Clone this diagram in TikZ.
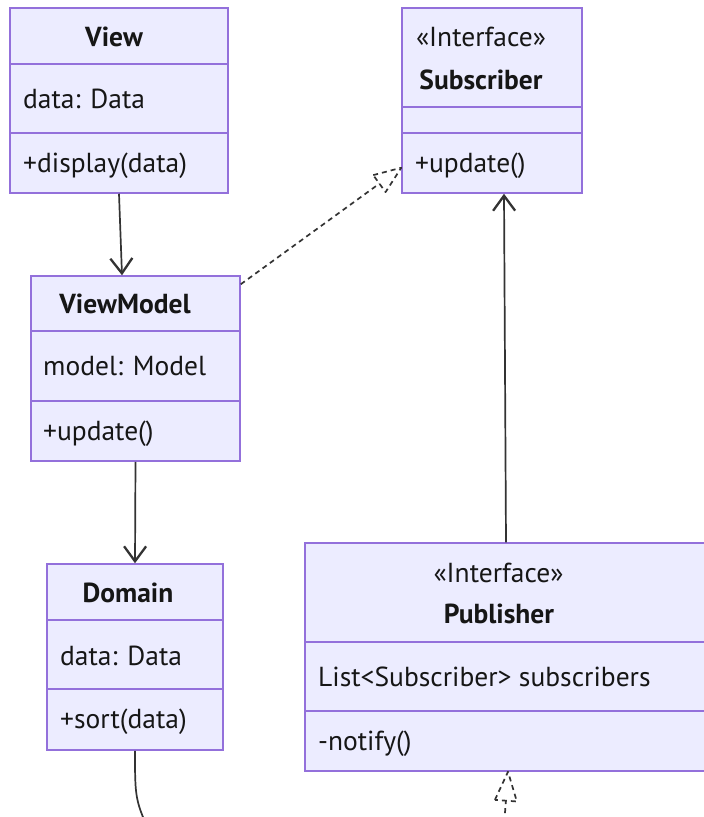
\documentclass[tikz,border=0pt]{standalone}
\usepackage{fontspec}
\setmainfont{PT Sans}
\usetikzlibrary{arrows.meta,calc}
\definecolor{classfill}{HTML}{ECECFF}
\definecolor{classline}{HTML}{9370DB}
\definecolor{edgeink}{HTML}{333333}
\definecolor{ink}{HTML}{161616}
\tikzset{
  classbox/.style={draw=classline, fill=classfill, line width=1.5pt, rectangle, inner sep=0pt},
  divider/.style={draw=classline, line width=1.5pt},
  member/.style={anchor=base west, inner sep=0pt, text=ink, font=\fontsize{27.5}{32}\selectfont},
  classtitle/.style={anchor=base, inner sep=0pt, text=ink, font=\fontsize{27.5}{32}\selectfont\bfseries},
  stereo/.style={anchor=base, inner sep=0pt, text=ink, font=\fontsize{27.5}{32}\selectfont},
  edgeline/.style={draw=edgeink, line width=1.7pt},
  assoc/.style={edgeline, -{Straight Barb[length=15pt, width=22pt, line width=2.3pt]}},
  realize/.style={edgeline, dash pattern=on 5pt off 4pt, line join=round},
}
\begin{document}
\begin{tikzpicture}[x=1pt, y=-1pt]
  \useasboundingbox (0,0) rectangle (704,817);
  \fill[white] (0,0) rectangle (704,817);
  \clip (0,0) rectangle (704,817);

  % class boxes
  \node[classbox, minimum width=218pt, minimum height=185pt] (view) at (119,100.5) {};
  \node[classbox, minimum width=180pt, minimum height=185pt] (sub)  at (492,100.5) {};
  \node[classbox, minimum width=209pt, minimum height=185pt] (vm)   at (135.5,368.5) {};
  \node[classbox, minimum width=176pt, minimum height=186pt] (dom)  at (135,657) {};
  \node[classbox, minimum width=410pt, minimum height=228pt] (pub)  at (510,657) {};

  % compartment separators
  \draw[divider] (10,64) -- (228,64);
  \draw[divider] (10,133) -- (228,133);
  \draw[divider] (402,107) -- (582,107);
  \draw[divider] (402,133) -- (582,133);
  \draw[divider] (31,331) -- (240,331);
  \draw[divider] (31,401) -- (240,401);
  \draw[divider] (47,620) -- (223,620);
  \draw[divider] (47,689) -- (223,689);
  \draw[divider] (305,642) -- (715,642);
  \draw[divider] (305,711) -- (715,711);

  % View
  \node[classtitle] (viewT) at (114,46) {View};
  \node[member] (viewA) at (23,108) {data: Data};
  \node[member] (viewM) at (23,172) {+display(data)};

  % Subscriber
  \node[stereo] (subS) at (481,46) {«Interface»};
  \node[classtitle] (subT) at (481,89) {Subscriber};
  \node[member] (subM) at (415,172) {+update()};

  % ViewModel
  \node[classtitle] (vmT) at (125,313) {ViewModel};
  \node[member] (vmA) at (43,375) {model: Model};
  \node[member] (vmM) at (43,440) {+update()};

  % Domain
  \node[classtitle] (domT) at (128,602) {Domain};
  \node[member] (domA) at (60,665) {data: Data};
  \node[member] (domM) at (60,728) {+sort(data)};

  % Publisher
  \node[stereo] (pubS) at (498.5,582) {«Interface»};
  \node[classtitle] (pubT) at (499,623) {Publisher};
  \node[member] (pubA) at (318,686) {List<Subscriber> subscribers};
  \node[member] (pubM) at (318,750) {-notify()};

  % associations
  \draw[assoc] (view.south) -- ([xshift=-13.5pt]vm.north);
  \draw[assoc] (vm.south) -- (dom.north);
  \draw[assoc] ([xshift=-4pt]pub.north) -- ([xshift=12pt]sub.south);

  % realization ViewModel -> Subscriber
  \coordinate (vmOut) at ([yshift=-9pt]vm.north east);
  \coordinate (subIn) at ([yshift=26pt]sub.south west);
  \coordinate (subBase) at ($(subIn)!27pt!(vmOut)$);
  \draw[realize] (vmOut) -- (subBase);
  \draw[realize] ($(subBase)!10.5pt!90:(subIn)$) -- (subIn)
                 -- ($(subBase)!10.5pt!-90:(subIn)$) -- cycle;

  % realization into Publisher from below
  \coordinate (pubIn) at ([xshift=-2pt]pub.south);
  \coordinate (pubFrom) at (503,840);
  \coordinate (pubBase) at ($(pubIn)!29pt!(pubFrom)$);
  \draw[realize] (pubFrom) -- (pubBase);
  \draw[realize] ($(pubBase)!11pt!90:(pubIn)$) -- (pubIn)
                 -- ($(pubBase)!11pt!-90:(pubIn)$) -- cycle;

  % link leaving Domain downwards
  \coordinate (domOut) at (153,840);
  \draw[edgeline] (dom.south) .. controls (135,800) .. (domOut);
\end{tikzpicture}
\end{document}
